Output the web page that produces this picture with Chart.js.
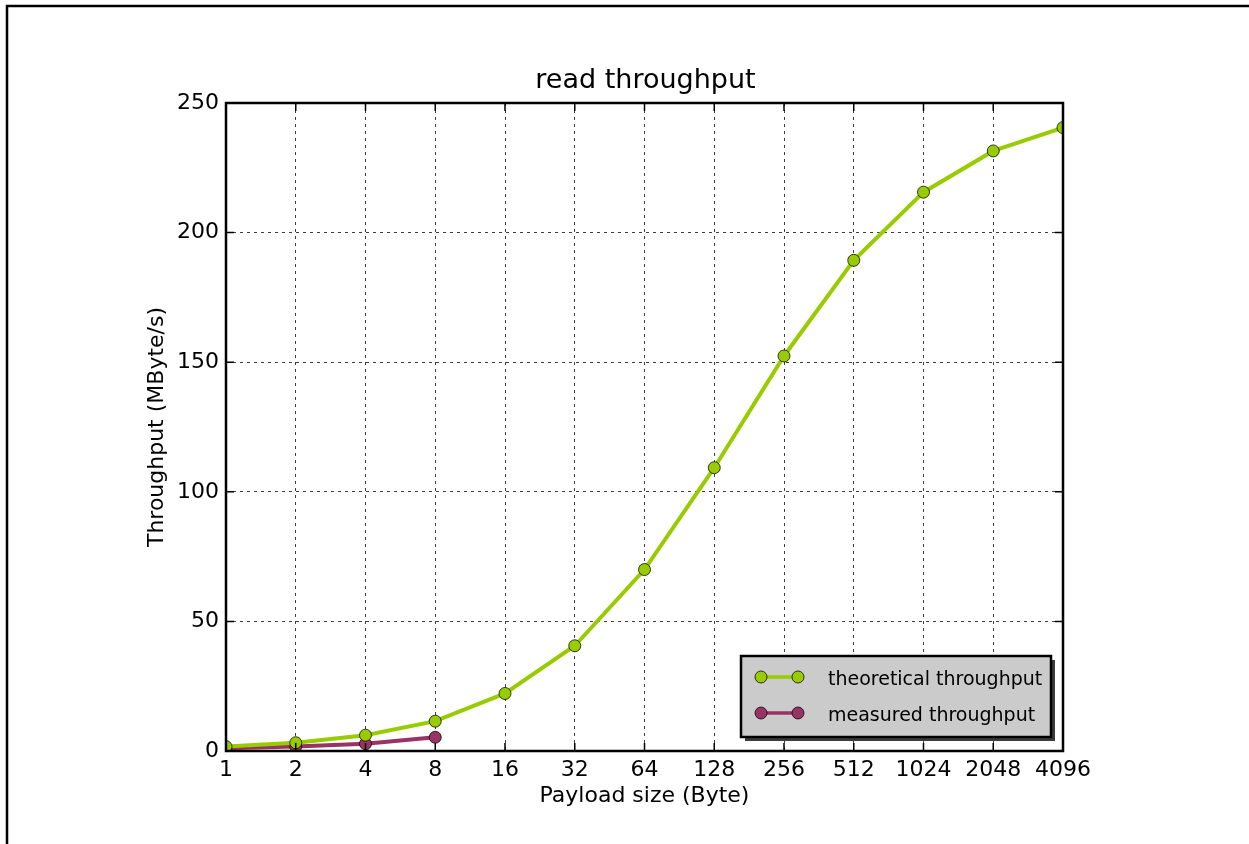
<!DOCTYPE html>
<html>
<head>
<meta charset="utf-8">
<title>read throughput</title>
<script src="https://cdn.jsdelivr.net/npm/chart.js@4/dist/chart.umd.min.js"></script>
<style>
  html, body { margin: 0; padding: 0; background: #fff; }
  canvas { display: block; }
</style>
</head>
<body>
<canvas id="chart" width="1249" height="844"></canvas>
<script>
// Payload sizes in bytes (log2 spaced categories)
const payloadSizes = ['1', '2', '4', '8', '16', '32', '64', '128', '256', '512', '1024', '2048', '4096'];
// Throughput in MByte/s
const theoreticalThroughput = [1.7, 3.2, 6.1, 11.5, 22.2, 40.6, 70.0, 109.3, 152.4, 189.3, 215.6, 231.5, 240.5];
const measuredThroughput = [1.1, 1.7, 2.8, 5.3];
const yTickValues = [0, 50, 100, 150, 200, 250];

const titleText = 'read throughput';
const xAxisTitle = 'Payload size (Byte)';
const yAxisTitle = 'Throughput (MByte/s)';
const seriesNames = ['theoretical throughput', 'measured throughput'];

const GREEN = '#99cc00';
const PLUM = '#993366';
const FONT = "'DejaVu Sans', 'Liberation Sans', sans-serif";

Chart.defaults.font.family = FONT;
Chart.defaults.color = '#000';

// Frame, inward ticks, title, legend and page border drawn after the data
const decorations = {
  id: 'decorations',
  afterDraw(chart) {
    const { ctx, chartArea: a, scales } = chart;
    const x = scales.x, y = scales.y;
    ctx.save();

    // inward tick marks on all four sides
    ctx.strokeStyle = '#000';
    ctx.lineWidth = 1.5;
    ctx.beginPath();
    x.ticks.forEach((t, i) => {
      const px = x.getPixelForTick(i);
      ctx.moveTo(px, a.bottom); ctx.lineTo(px, a.bottom - 8);
      ctx.moveTo(px, a.top); ctx.lineTo(px, a.top + 8);
    });
    y.ticks.forEach((t, i) => {
      const py = y.getPixelForTick(i);
      ctx.moveTo(a.left, py); ctx.lineTo(a.left + 8, py);
      ctx.moveTo(a.right, py); ctx.lineTo(a.right - 8, py);
    });
    ctx.stroke();

    // axes frame
    ctx.lineWidth = 2.5;
    ctx.strokeRect(a.left, a.top, a.right - a.left, a.bottom - a.top);

    // chart title
    ctx.fillStyle = '#000';
    ctx.font = '27px ' + FONT;
    ctx.textAlign = 'center';
    ctx.textBaseline = 'alphabetic';
    ctx.fillText(titleText, (a.left + a.right) / 2 + 1, a.top - 15);

    // legend box with drop shadow, lower right corner of the axes
    const bw = 310, bh = 81;
    const bx = a.right - 12 - bw, by = a.bottom - 14 - bh;
    ctx.fillStyle = '#3c3c3c';
    ctx.fillRect(bx + 4, by + 4, bw, bh);
    ctx.fillStyle = '#cbcbcb';
    ctx.fillRect(bx, by, bw, bh);
    ctx.strokeStyle = '#000';
    ctx.lineWidth = 2.5;
    ctx.strokeRect(bx, by, bw, bh);

    chart.data.datasets.forEach((ds, i) => {
      const cy = by + 21 + i * 36;
      const x0 = bx + 20, x1 = bx + 57;
      ctx.strokeStyle = ds.borderColor;
      ctx.lineWidth = 3.5;
      ctx.beginPath();
      ctx.moveTo(x0, cy); ctx.lineTo(x1, cy);
      ctx.stroke();
      [x0, x1].forEach(mx => {
        ctx.beginPath();
        ctx.arc(mx, cy, 6, 0, Math.PI * 2);
        ctx.fillStyle = ds.pointBackgroundColor;
        ctx.fill();
        ctx.lineWidth = 1;
        ctx.strokeStyle = ds.pointBorderColor;
        ctx.stroke();
      });
      ctx.fillStyle = '#000';
      ctx.font = '19px ' + FONT;
      ctx.textAlign = 'left';
      ctx.textBaseline = 'alphabetic';
      ctx.fillText(ds.label, bx + 87, cy + 8);
    });

    // page border (left and top edges)
    ctx.strokeStyle = '#000';
    ctx.lineWidth = 2.5;
    ctx.beginPath();
    ctx.moveTo(7, chart.height);
    ctx.lineTo(7, 6);
    ctx.lineTo(chart.width, 6);
    ctx.stroke();

    ctx.restore();
  }
};

new Chart(document.getElementById('chart'), {
  type: 'line',
  data: {
    labels: payloadSizes,
    datasets: [
      {
        label: seriesNames[0],
        data: theoreticalThroughput,
        borderColor: GREEN,
        backgroundColor: GREEN,
        pointBackgroundColor: GREEN,
        pointBorderColor: 'rgba(0,0,0,0.75)',
        borderWidth: 4,
        pointRadius: 6,
        pointBorderWidth: 1,
        tension: 0,
        clip: 0
      },
      {
        label: seriesNames[1],
        data: measuredThroughput,
        borderColor: PLUM,
        backgroundColor: PLUM,
        pointBackgroundColor: PLUM,
        pointBorderColor: 'rgba(0,0,0,0.75)',
        borderWidth: 4,
        pointRadius: 6,
        pointBorderWidth: 1,
        tension: 0,
        clip: 0
      }
    ]
  },
  options: {
    responsive: false,
    animation: false,
    events: [],
    layout: { padding: { left: 0, right: 186, top: 103, bottom: 0 } },
    plugins: {
      legend: { display: false },
      title: { display: false },
      tooltip: { enabled: false }
    },
    scales: {
      x: {
        type: 'category',
        offset: false,
        z: 1,
        grid: { display: true, offset: false, color: 'rgba(0,0,0,0.75)', lineWidth: 1, drawTicks: false },
        border: { display: false, dash: [3, 4] },
        ticks: { autoSkip: false, maxRotation: 0, padding: 6, font: { size: 22 }, color: '#000' },
        title: { display: true, text: xAxisTitle, font: { size: 22 }, color: '#000', padding: { top: 0, bottom: 35 } },
        afterFit(scale) { scale.height = 93; }
      },
      y: {
        type: 'linear',
        min: 0,
        max: 250,
        z: 1,
        grid: { display: true, color: 'rgba(0,0,0,0.75)', lineWidth: 1, drawTicks: false },
        border: { display: false, dash: [3, 4] },
        afterBuildTicks(scale) { scale.ticks = yTickValues.map(v => ({ value: v })); },
        ticks: { padding: 7, font: { size: 22 }, color: '#000' },
        title: { display: true, text: yAxisTitle, font: { size: 22 }, color: '#000', padding: { top: 144, bottom: 0 } },
        afterFit(scale) { scale.width = 226; }
      }
    }
  },
  plugins: [decorations]
});
</script>
</body>
</html>
